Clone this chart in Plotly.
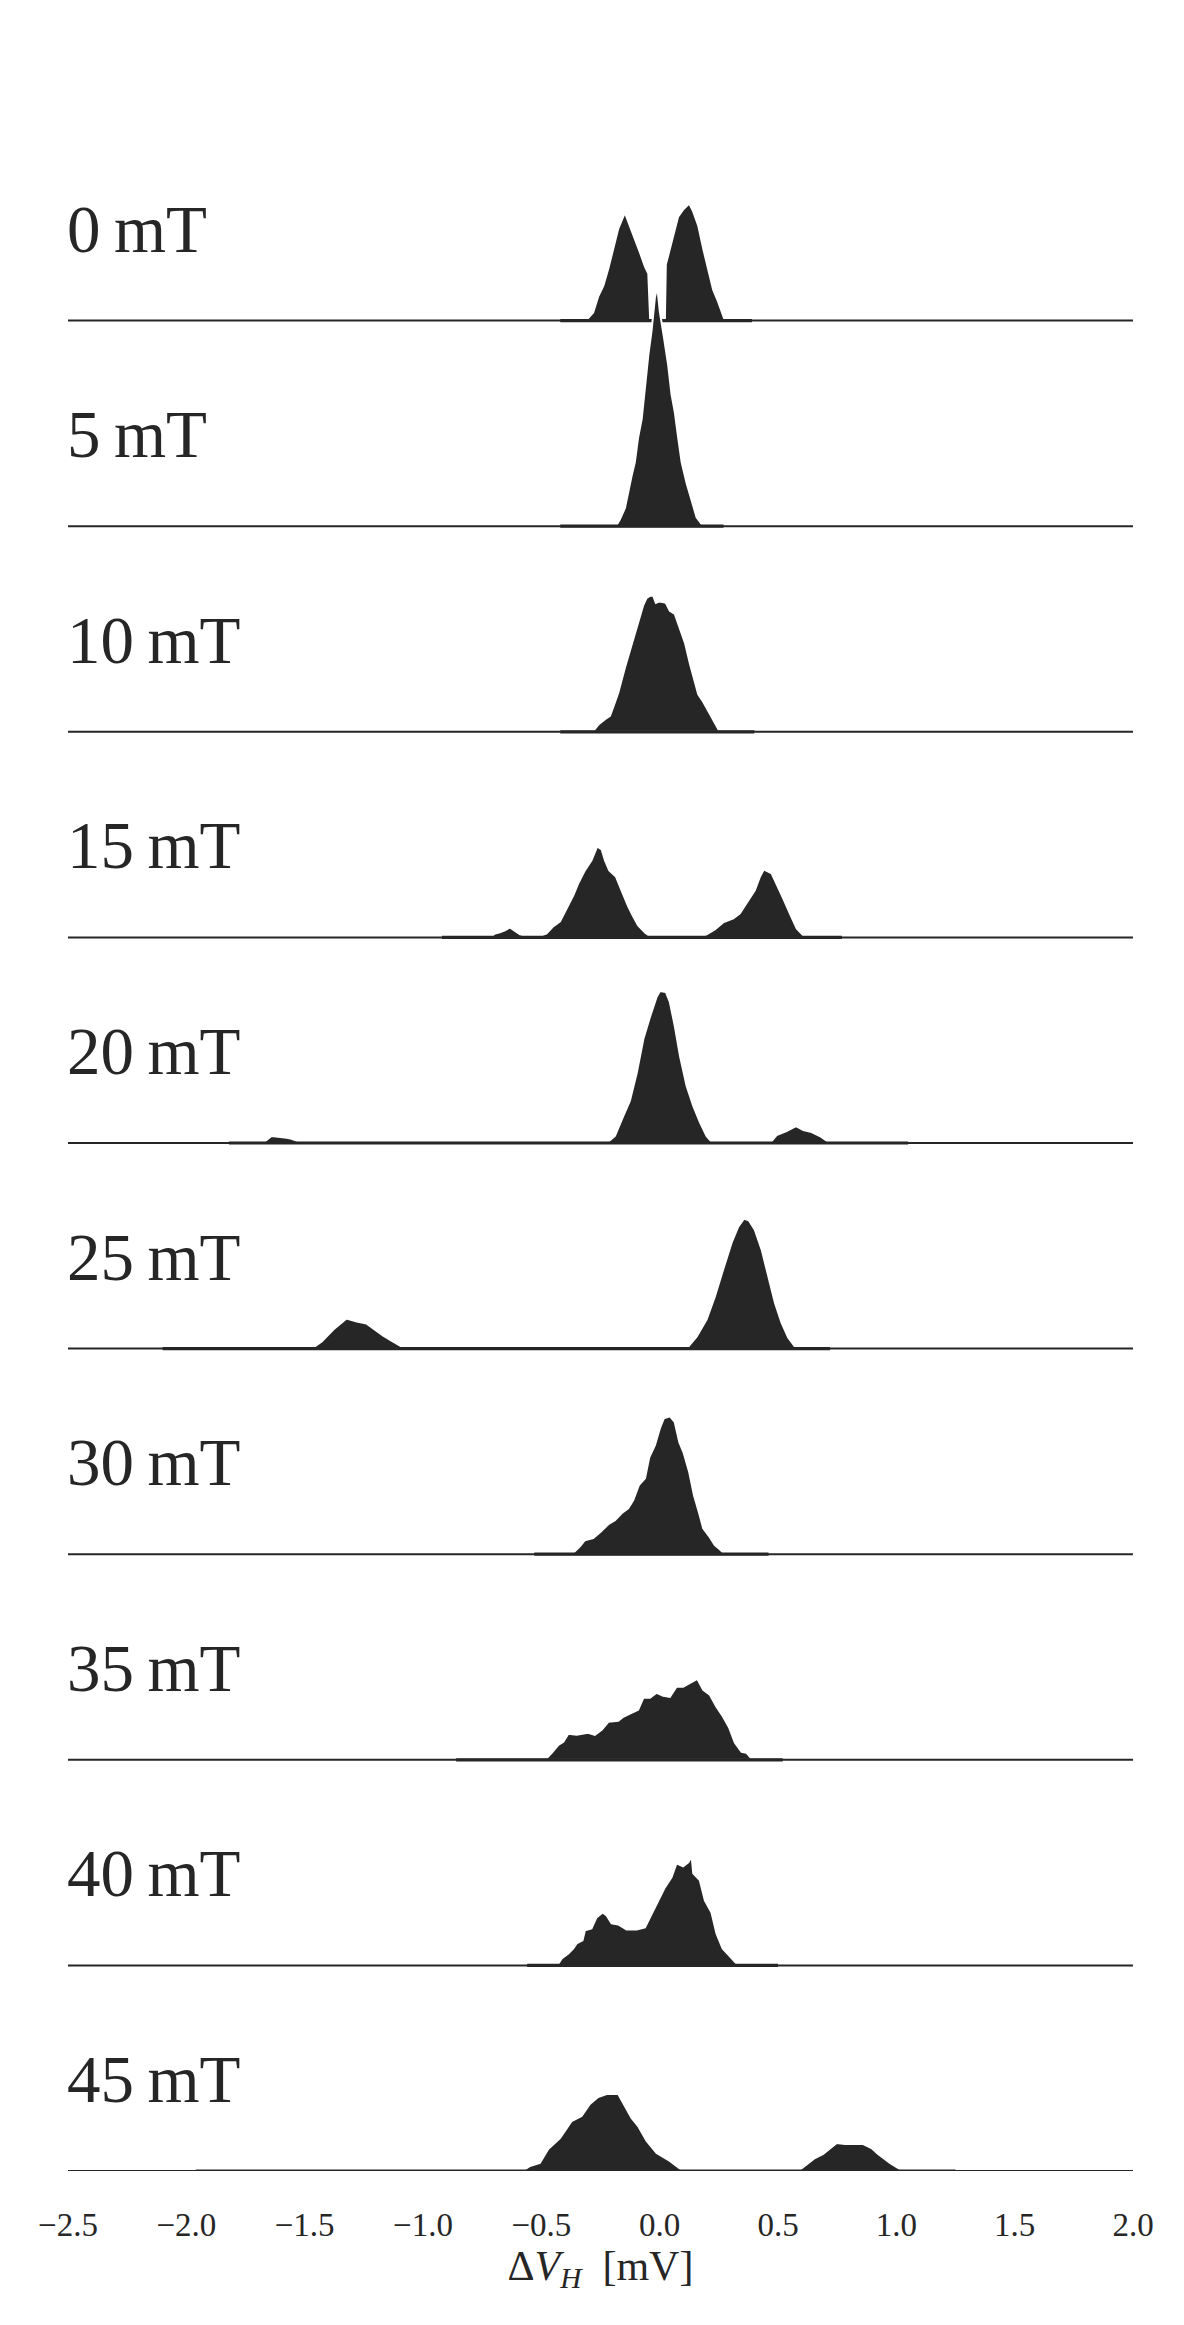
import plotly.graph_objects as go

# ---------------- data ----------------
FIELDS_MT = [0, 5, 10, 15, 20, 25, 30, 35, 40, 45]
ROW_LABELS = [f"{b}\u2009mT" for b in FIELDS_MT]

X_TICKS = [-2.5, -2.0, -1.5, -1.0, -0.5, 0.0, 0.5, 1.0, 1.5, 2.0]
X_TICK_LABELS = ["\u22122.5", "\u22122.0", "\u22121.5", "\u22121.0", "\u22120.5",
                 "0.0", "0.5", "1.0", "1.5", "2.0"]

# Hall-voltage difference [mV] and estimated density (arbitrary units) per field
dv_0mT = [-0.312, -0.281, -0.260, -0.238, -0.217, -0.196, -0.175, -0.147, -0.126, -0.105,
          -0.083, -0.062, -0.048, -0.040, 0.022, 0.026, 0.036, 0.057, 0.078, 0.099,
          0.125, 0.142, 0.163, 0.184, 0.205, 0.226, 0.247, 0.271, 0.276]
dens_0mT = [0, 8, 24, 35, 52, 72, 92, 108, 95, 83,
            68, 54, 47, 0, 0, 56, 65, 83, 104, 111,
            117, 109, 95, 72, 52, 31, 19, 2.5, 0]

dv_5mT = [-0.185, -0.168, -0.147, -0.133, -0.119, -0.105, -0.091, -0.076, -0.062, -0.048,
          -0.034, -0.020, -0.010, 0.001, 0.018, 0.036, 0.050, 0.064, 0.078, 0.093,
          0.114, 0.135, 0.156, 0.184]
dens_5mT = [0, 7, 18, 36, 50, 64, 89, 107, 141, 171,
            196, 229, 239, 214, 189, 161, 132, 114, 89, 64,
            43, 25, 9, 0]

dv_10mT = [-0.284, -0.260, -0.231, -0.210, -0.196, -0.175, -0.147, -0.119, -0.097, -0.083,
           -0.069, -0.055, -0.041, -0.027, -0.016, -0.006, 0.008, 0.026, 0.043, 0.064,
           0.086, 0.107, 0.128, 0.149, 0.163, 0.184, 0.205, 0.226, 0.254]
dens_10mT = [0, 7, 12.5, 16, 25, 39, 64, 86, 104, 114,
             127, 134, 136, 136, 129, 130, 130, 129, 121, 118,
             104, 89, 68, 50, 37.5, 30, 21, 12.5, 0]

dv_15mT = [-0.717, -0.696, -0.675, -0.654, -0.633, -0.612, -0.590, -0.555, -0.506, -0.478,
           -0.450, -0.421, -0.393, -0.365, -0.344, -0.316, -0.288, -0.264, -0.245, -0.231,
           -0.213, -0.185, -0.161, -0.133, -0.112, -0.091, -0.062, -0.034, 0.170, 0.198,
           0.233, 0.268, 0.311, 0.339, 0.374, 0.402, 0.424, 0.440, 0.473, 0.494,
           0.522, 0.550, 0.579, 0.607, 0.628]
dens_15mT = [0, 4, 5, 7, 10, 7, 3, 0.7, 1.3, 4,
             11, 16, 29, 42, 54, 67, 77, 91, 88, 77,
             67, 61, 47, 31, 21, 12, 5, 0, 0, 3,
             8, 15, 19, 24, 37, 47, 61, 68, 64, 54,
             39, 24, 9, 2, 0]

dv_20mT = [-1.677, -1.640, -1.576, -1.555, -1.520, -1.506, -0.224, -0.189, -0.154, -0.126,
           -0.097, -0.069, -0.041, -0.013, 0.001, 0.026, 0.043, 0.064, 0.086, 0.114,
           0.142, 0.170, 0.198, 0.224, 0.466, 0.494, 0.536, 0.576, 0.607, 0.642,
           0.677, 0.719]
dens_20mT = [0, 7, 5.3, 4.3, 1, 0, 0, 7, 27, 42,
             70, 104, 126, 146, 152, 151, 141, 117, 87, 57,
             37, 21, 7, 0, 0, 8, 12, 17, 13, 11,
             7, 0]

dv_25mT = [-1.471, -1.428, -1.379, -1.323, -1.280, -1.238, -1.203, -1.168, -1.126, -1.076,
           0.114, 0.156, 0.198, 0.233, 0.268, 0.304, 0.332, 0.356, 0.378, 0.402,
           0.431, 0.459, 0.487, 0.515, 0.543, 0.578]
dens_25mT = [0, 7, 19, 30, 27, 25, 19, 13, 7, 0,
             0, 12, 29, 52, 79, 106, 122, 130, 128, 119,
             99, 72, 46, 26, 11, 0]

dv_30mT = [-0.372, -0.337, -0.316, -0.281, -0.252, -0.217, -0.189, -0.161, -0.133, -0.112,
           -0.088, -0.062, -0.044, -0.020, 0.001, 0.018, 0.043, 0.064, 0.083, 0.102,
           0.125, 0.145, 0.167, 0.184, 0.212, 0.233, 0.254, 0.276]
dens_30mT = [0, 8, 14, 16, 22, 30, 34, 41, 46, 54,
             69, 76, 97, 109, 126, 136, 138, 132, 112, 101,
             82, 59, 41, 26, 17, 9, 5, 0]

dv_35mT = [-0.485, -0.456, -0.428, -0.407, -0.386, -0.351, -0.302, -0.274, -0.245, -0.217,
           -0.175, -0.154, -0.119, -0.091, -0.069, -0.041, -0.013, 0.015, 0.043, 0.071,
           0.099, 0.128, 0.159, 0.184, 0.212, 0.240, 0.268, 0.294, 0.318, 0.346,
           0.367, 0.393]
dens_35mT = [0, 7, 15, 18, 26, 25, 27, 25, 30, 38,
             39, 43, 47, 50, 62, 62, 67, 64, 63, 73,
             73, 77, 81, 70, 65, 53, 43, 32, 17, 8,
             7, 0]

dv_40mT = [-0.433, -0.414, -0.386, -0.365, -0.351, -0.326, -0.316, -0.288, -0.267, -0.241,
           -0.224, -0.203, -0.175, -0.140, -0.097, -0.062, -0.041, -0.020, 0.001, 0.022,
           0.050, 0.071, 0.099, 0.121, 0.135, 0.142, 0.170, 0.191, 0.219, 0.240,
           0.266, 0.297, 0.332]
dens_40mT = [0, 7, 12, 17, 22, 25, 35, 37, 48, 53,
             50, 42, 41, 36, 36, 38, 48, 58, 68, 78,
             88, 102, 99, 103, 109, 92, 85, 65, 53, 32,
             17, 9, 0]

dv_45mT = [-0.580, -0.548, -0.506, -0.471, -0.421, -0.372, -0.330, -0.295, -0.260, -0.224,
           -0.175, -0.154, -0.119, -0.091, -0.055, -0.013, 0.043, 0.099, 0.585, 0.656,
           0.691, 0.748, 0.783, 0.860, 0.895, 0.923, 0.973, 1.015, 1.035]
dens_45mT = [0, 5, 8, 22, 33, 50, 55, 67, 74, 77,
             77, 68, 53, 45, 30, 18, 10, 0, 0, 13,
             17, 28, 27, 27, 23, 17, 8, 2, 0]

# extent of each KDE evaluation grid [mV]
SUPPORT_LO = [-0.42, -0.42, -0.42, -0.92, -1.82, -2.10, -0.53, -0.86, -0.56, -1.96]
SUPPORT_HI = [0.39, 0.27, 0.40, 0.77, 1.05, 0.72, 0.46, 0.52, 0.50, 1.25]

DV = [dv_0mT, dv_5mT, dv_10mT, dv_15mT, dv_20mT, dv_25mT, dv_30mT, dv_35mT, dv_40mT, dv_45mT]
DENS = [dens_0mT, dens_5mT, dens_10mT, dens_15mT, dens_20mT, dens_25mT,
        dens_30mT, dens_35mT, dens_40mT, dens_45mT]

# ---------------- style ----------------
X_RANGE = [-2.5, 2.0]
ROW_STEP = 205.6          # vertical spacing between ridges (density units)
LABEL_RAISE = 92          # label centre above each ridge baseline
INK = "#262626"
W, H = 1184, 2325
M_L, M_R, M_T, M_B = 68, 51, 0, 154
Y_TOP = H - M_T - M_B     # density units == pixels

n = len(FIELDS_MT)
fig = go.Figure()
annotations = []
for i in range(n):
    base = (n - 1 - i) * ROW_STEP
    xs = DV[i]
    ys = [base + d for d in DENS[i]]
    # filled ridge with white outline, closed along its baseline
    fig.add_trace(go.Scatter(
        x=xs + [xs[-1], xs[0]], y=ys + [base, base],
        mode="lines", fill="toself", fillcolor=INK,
        line=dict(color="white", width=2),
        hoverinfo="skip", showlegend=False))
    # reference line across the full axis
    fig.add_trace(go.Scatter(
        x=X_RANGE, y=[base, base], mode="lines",
        line=dict(color=INK, width=2), hoverinfo="skip", showlegend=False,
        cliponaxis=False))
    # KDE grid extent (slightly heavier)
    fig.add_trace(go.Scatter(
        x=[SUPPORT_LO[i], SUPPORT_HI[i]], y=[base, base], mode="lines",
        line=dict(color=INK, width=3.2), hoverinfo="skip", showlegend=False,
        cliponaxis=False))
    annotations.append(dict(
        x=0, xref="paper", xanchor="left", xshift=-3,
        y=base + LABEL_RAISE, yref="y", yanchor="middle",
        text=ROW_LABELS[i], showarrow=False,
        font=dict(family="Liberation Serif", size=67, color=INK)))

fig.update_layout(
    width=W, height=H,
    margin=dict(l=M_L, r=M_R, t=M_T, b=M_B),
    paper_bgcolor="white", plot_bgcolor="white",
    annotations=annotations,
    xaxis=dict(range=X_RANGE, tickvals=X_TICKS, ticktext=X_TICK_LABELS,
               showgrid=False, zeroline=False, showline=False,
               ticks="outside", ticklen=24, tickcolor="rgba(0,0,0,0)",
               tickfont=dict(family="Liberation Serif", size=33, color=INK),
               title=dict(text="\u0394<i>V</i><sub><i>H</i></sub>\u2002[mV]",
                          font=dict(family="Liberation Serif", size=42, color=INK),
                          standoff=6)),
    yaxis=dict(range=[0, Y_TOP], visible=False, fixedrange=True),
    font=dict(family="Liberation Serif", color=INK),
)

fig.write_html("out.html")
